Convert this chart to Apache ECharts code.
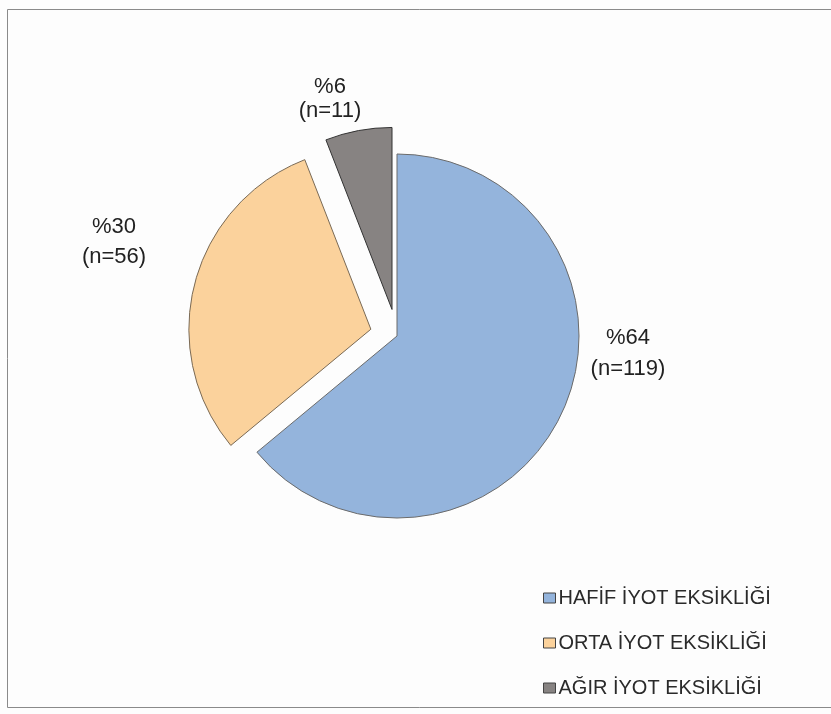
<!DOCTYPE html>
<html>
<head>
<meta charset="utf-8">
<script src="https://cdn.jsdelivr.net/npm/echarts@6/dist/echarts.min.js"></script>
<style>
  html, body { margin: 0; padding: 0; background: #fdfdfd; }
  #chart { width: 831px; height: 714px; }
</style>
</head>
<body>
<div id="chart"></div>
<script>
// Iodine deficiency severity distribution (n = 186)
const categories = ['HAFİF İYOT EKSİKLİĞİ', 'ORTA İYOT EKSİKLİĞİ', 'AĞIR İYOT EKSİKLİĞİ'];
const counts = [119, 56, 11];
const percentLabels = ['%64', '%30', '%6'];
const sliceColors = ['#94b4dc', '#fbd29c', '#878382'];
const exploded = [false, true, true];

// Label placement (best-fit style) and per-slice outline
const labelAnchors = [[628, 353], [114, 242], [330, 99]];
const labelLineHeights = [31, 30, 24];
const sliceBorders = ['#6b6b6b', '#7a6a55', '#333333'];

const pieCenter = [397, 336];
const pieRadius = 182;

const chart = echarts.init(document.getElementById('chart'));

// Visible, exploded slices
const sliceData = categories.map((name, i) => ({
  name: name,
  value: counts[i],
  selected: exploded[i],
  itemStyle: { color: sliceColors[i], borderColor: sliceBorders[i] }
}));

// Same values on a transparent layer that carries the data labels
const labelData = categories.map((name, i) => ({
  name: name,
  value: counts[i],
  label: { lineHeight: labelLineHeights[i] }
}));

chart.setOption({
  backgroundColor: '#fdfdfd',
  animation: false,
  graphic: [{
    type: 'rect',
    shape: { x: 7.5, y: 9.5, width: 840, height: 698 },
    style: { fill: 'none', stroke: '#8a8a8a', lineWidth: 1 },
    silent: true
  }],
  legend: {
    orient: 'vertical',
    left: 538,
    top: 583,
    icon: 'rect',
    itemWidth: 12,
    itemHeight: 10,
    itemGap: 25,
    selectedMode: false,
    itemStyle: { borderColor: '#444', borderWidth: 1 },
    textStyle: {
      fontFamily: 'Liberation Sans',
      fontSize: 20,
      color: '#2a2a2a',
      padding: [3, 0, 0, -2]
    },
    data: categories
  },
  series: [{
    type: 'pie',
    center: pieCenter,
    radius: pieRadius,
    startAngle: 90,
    clockwise: true,
    selectedMode: 'multiple',
    selectedOffset: 27,
    itemStyle: { borderWidth: 1 },
    emphasis: { disabled: true },
    label: { show: false },
    labelLine: { show: false },
    data: sliceData
  }, {
    type: 'pie',
    center: pieCenter,
    radius: pieRadius,
    startAngle: 90,
    clockwise: true,
    silent: true,
    selectedMode: false,
    itemStyle: { color: 'rgba(0,0,0,0)', borderWidth: 0 },
    emphasis: { disabled: true },
    label: {
      show: true,
      position: 'outside',
      fontFamily: 'Liberation Sans',
      fontSize: 22,
      color: '#222',
      formatter: p => percentLabels[p.dataIndex] + '\n(n=' + p.value + ')'
    },
    labelLine: { show: false },
    labelLayout: p => ({
      x: labelAnchors[p.dataIndex][0],
      y: labelAnchors[p.dataIndex][1],
      align: 'center',
      verticalAlign: 'middle'
    }),
    data: labelData
  }]
});
</script>
</body>
</html>
